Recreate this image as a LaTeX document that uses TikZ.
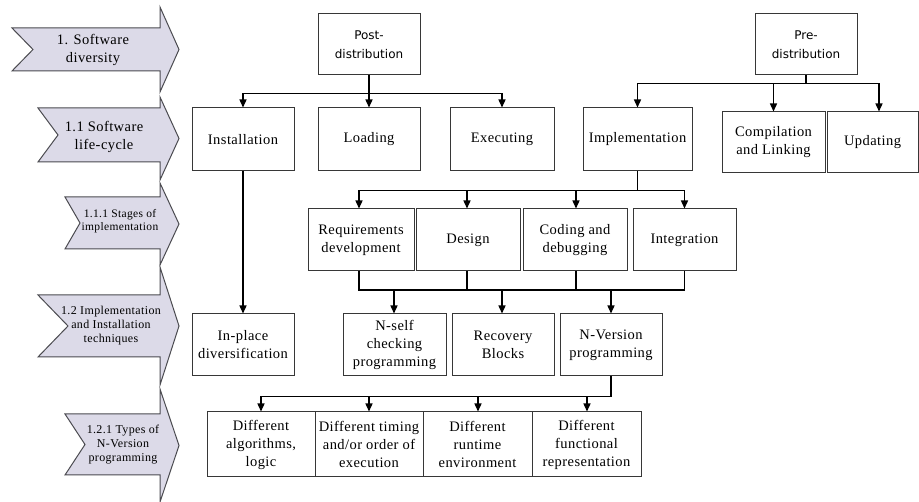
\documentclass[tikz,border=0pt]{standalone}
\usepackage{fontspec}
\setmainfont[LetterSpace=3.0]{Liberation Serif}
\newfontfamily\boxsans{DejaVu Sans}
\usetikzlibrary{arrows.meta}
\definecolor{chevfill}{RGB}{220,218,232}
\definecolor{chevline}{RGB}{75,75,80}
\definecolor{boxline}{RGB}{55,55,55}

% stage banner: left x, notch x, body top, body bottom, head top, head bottom
\newcommand\stagearrow[6]{%
  \filldraw[chev] (#1,#3) -- (160,#3) -- (160,#5) -- (179,{(#5+#6)/2})
    -- (160,#6) -- (160,#4) -- (#1,#4) -- (#2,{(#3+#4)/2}) -- cycle;}

\begin{document}
\begin{tikzpicture}[x=1pt,y=-1pt,
  chev/.style={fill=chevfill, draw=chevline, line width=1pt, line join=miter},
  box/.style={draw=boxline, line width=1pt, align=center, inner sep=0pt,
    minimum height=62pt, font=\rmfamily\fontsize{14.5}{18}\selectfont},
  sbox/.style={box, font=\boxsans\fontsize{12}{19}\selectfont},
  conn/.style={line width=1.4pt, black},
  arr/.style={conn, -{Triangle[width=7pt,length=8pt]}},
  lbl/.style={align=center, inner sep=0pt},
]
\useasboundingbox (0,0) rectangle (919,502);

% ---- stage banners on the left ----
\stagearrow{12}{33}{28}{71}{7}{92}
\stagearrow{38}{58}{108}{162}{97}{180}
\stagearrow{65}{80}{197}{249}{183}{265}
\stagearrow{38}{68}{295}{357}{267}{385}
\stagearrow{65}{85}{414}{475}{389}{502}

\node[lbl, font=\rmfamily\fontsize{14.5}{18}\selectfont] (s1) at (93,50) {1. Software\\diversity};
\node[lbl, font=\rmfamily\fontsize{14.5}{18}\selectfont] (s11) at (104,137) {1.1 Software\\life-cycle};
\node[lbl, font=\rmfamily\fontsize{11.5}{13}\selectfont] (s111) at (120,221) {1.1.1 Stages of\\implementation};
\node[lbl, font=\rmfamily\fontsize{12}{14}\selectfont] (s12) at (111,326) {1.2 Implementation\\and Installation\\techniques};
\node[lbl, font=\rmfamily\fontsize{12}{14}\selectfont] (s121) at (123,445) {1.2.1 Types of\\N-Version\\programming};

% ---- distribution roots ----
\node[sbox, minimum width=102pt, minimum height=61pt] (post) at (369,44.5) {Post-\\distribution};
\node[sbox, minimum width=102pt, minimum height=61pt] (pre) at (806,44.5) {Pre-\\distribution};

% ---- life-cycle phases ----
\node[box, minimum width=102pt, minimum height=63pt] (inst) at (243,139.5) {Installation};
\node[box, minimum width=102pt, minimum height=63pt] (load) at (369,139.5) {Loading};
\node[box, minimum width=104pt, minimum height=63pt] (exec) at (502,139.5) {Executing};
\node[box, minimum width=109pt, minimum height=63pt] (impl) at (637.5,139.5) {Implementation};
\node[box, minimum width=103pt, minimum height=61pt] (comp) at (773.5,142.5) {Compilation\\and Linking};
\node[box, minimum width=91pt, minimum height=61pt] (upd) at (872.5,142.5) {Updating};

% ---- implementation stages ----
\node[box, minimum width=106pt] (req) at (361,240) {Requirements\\development};
\node[box, minimum width=104pt] (design) at (468,240) {Design};
\node[box, minimum width=104pt] (coding) at (575,240) {Coding and\\debugging};
\node[box, minimum width=103pt] (integ) at (684.5,240) {Integration};

% ---- techniques ----
\node[box, minimum width=102pt] (inplace) at (243,345) {In-place\\diversification};
\node[box, minimum width=103pt] (nself) at (394.5,345) {N-self\\checking\\programming};
\node[box, minimum width=102pt] (recov) at (503,345) {Recovery\\Blocks};
\node[box, minimum width=102pt] (nver) at (611,345) {N-Version\\programming};

% ---- types of N-version programming ----
\node[box, minimum width=108pt, minimum height=65pt] (alg) at (261,444.5) {Different\\algorithms,\\logic};
\node[box, minimum width=108pt, minimum height=65pt] (timing) at (369,444.5) {Different timing\\and/or order of\\execution};
\node[box, minimum width=109pt, minimum height=65pt] (runtime) at (477.5,444.5) {Different\\runtime\\environment};
\node[box, minimum width=109pt, minimum height=65pt] (func) at (586.5,444.5) {Different\\functional\\representation};

% ---- connectors ----
\draw[arr] (post.south) -- ++(0,18) -| (inst.north);
\draw[arr] (post.south) -- (load.north);
\draw[arr] (post.south) -- ++(0,18) -| (exec.north);

\draw[arr] (pre.south) -- ++(0,8) -| (impl.north);
\draw[arr] (pre.south) -- ++(0,8) -| (comp.north);
\draw[arr] (pre.south) -- ++(0,8) -| ([xshift=6.5pt]upd.north);

\draw[arr] (impl.south) -- ++(0,19) -| ([xshift=-2pt]req.north);
\draw[arr] (impl.south) -- ++(0,19) -| ([xshift=-1pt]design.north);
\draw[arr] (impl.south) -- ++(0,19) -| ([xshift=1pt]coding.north);
\draw[arr] (impl.south) -- ++(0,19) -| (integ.north);

\draw[arr] (inst.south) -- (inplace.north);

\coordinate (bus) at (0,290);
\draw[conn] ([xshift=-2pt]req.south) -- ([xshift=-2pt]req.south |- bus) -- (integ.south |- bus) -- (integ.south);
\draw[conn] ([xshift=-1pt]design.south) -- ([xshift=-1pt]design.south |- bus);
\draw[conn] ([xshift=1pt]coding.south) -- ([xshift=1pt]coding.south |- bus);
\draw[arr] ([xshift=-0.5pt]nself.north |- bus) -- ([xshift=-0.5pt]nself.north);
\draw[arr] ([xshift=-1pt]recov.north |- bus) -- ([xshift=-1pt]recov.north);
\draw[arr] (nver.north |- bus) -- (nver.north);

\draw[arr] (nver.south) -- ++(0,20) -| (alg.north);
\draw[arr] (nver.south) -- ++(0,20) -| (timing.north);
\draw[arr] (nver.south) -- ++(0,20) -| ([xshift=0.5pt]runtime.north);
\draw[arr] (nver.south) -- ++(0,20) -| ([xshift=0.5pt]func.north);
\end{tikzpicture}
\end{document}
